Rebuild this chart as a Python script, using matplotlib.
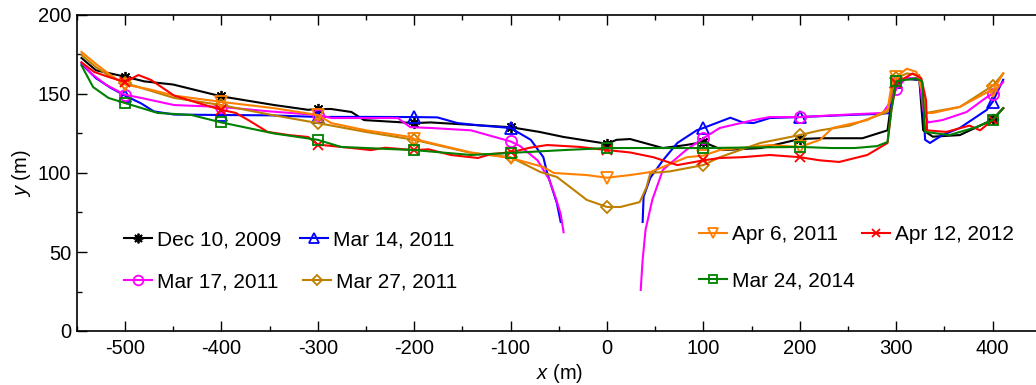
import numpy as np
import matplotlib
matplotlib.use("Agg")
import matplotlib.pyplot as plt
from matplotlib.ticker import MultipleLocator
from matplotlib.lines import Line2D

plt.rcParams['font.family'] = ['Liberation Sans', 'DejaVu Sans']
plt.rcParams['axes.unicode_minus'] = False
plt.rcParams['mathtext.fontset'] = 'custom'
plt.rcParams['mathtext.it'] = 'Liberation Sans:italic'
plt.rcParams['mathtext.rm'] = 'Liberation Sans'

# ---------------- data ----------------
labels = ["Dec 10, 2009", "Mar 14, 2011", "Mar 17, 2011", "Mar 27, 2011",
          "Apr 6, 2011", "Apr 12, 2012", "Mar 24, 2014"]

dec2009_x = [-545, -530, -515, -500, -480, -450, -400, -365, -345, -310, -300, -286, -265, -252,
             -200, -183, -141, -100, -70, -45, 0, 10, 24, 58, 82, 100, 120, 160, 200, 221, 265,
             291, 296, 300, 307, 324, 328, 338, 366, 394, 400, 411]
dec2009_y = [172.8, 165, 163, 161, 158, 156, 148.5, 145, 143, 140, 140.5, 140.5, 138.6, 133.5,
             131.6, 132, 130.5, 129, 126, 122.8, 118.5, 121, 121.5, 115.8, 117.7, 119.6, 114.5, 115.8,
             121.5, 122, 122, 127, 150, 157.5, 159.5, 159, 127, 123, 124, 132, 134, 141]

mar14_x = [-545, -530, -515, -500, -483, -470, -449, -400, -350, -300, -250, -200, -176, -155,
           -130, -100, -79, -66, -62, -52, -48,
           np.nan,
           37, 38, 45, 58, 73, 93, 100, 128, 141, 152, 169, 200, 250, 286, 293, 297, 300, 310,
           324, 328, 330, 335, 348, 366, 394, 400, 411]
mar14_y = [169, 160, 154, 149, 144, 139, 137, 136.7, 136.5, 135.5, 135.5, 135.4, 135.2, 131.6,
           130, 128.5, 121, 110, 100, 81, 69,
           np.nan,
           69, 85, 97, 108, 119, 127, 128.5, 135, 132, 131.6, 134.8, 135.4, 136.7, 137.5, 138, 150,
           157.6, 160, 159, 140, 121, 119, 124, 128.5, 140, 145, 159]

mar17_x = [-545, -535, -520, -500, -483, -449, -400, -350, -300, -286, -250, -217, -204, -183,
           -141, -100, -90, -72, -60, -53, -48, -45,
           np.nan,
           35, 37, 40, 47, 58, 82, 100, 117, 152, 169, 200, 250, 286, 294, 300, 310, 324, 328,
           333, 348, 373, 394, 400, 411]
mar17_y = [170, 163, 156, 149.5, 147.5, 143, 141.8, 139, 136.7, 134.8, 134.8, 134.8, 129, 128.5,
           127, 120, 117, 108, 96, 84, 74, 62.5,
           np.nan,
           26, 45, 64, 83, 102, 114.5, 122, 128.5, 133.5, 135.4, 135.4, 137, 138, 145, 153, 160,
           160, 140, 132, 133.5, 138.6, 148, 150, 157.6]

mar27_x = [-545, -530, -515, -500, -449, -400, -350, -300, -250, -200, -141, -100, -90, -69,
           -52, -38, -21, 0, 14, 34, 41, 45, 65, 100, 117, 159, 200, 221, 252, 291, 295, 300,
           311, 324, 328, 331, 366, 397, 400, 411]
mar27_y = [174.7, 167, 161, 157, 147.5, 143, 137, 131.6, 126, 121, 112.7, 110, 107, 100.6,
           97.5, 91, 83, 78.5, 78.5, 81.6, 91, 100, 101, 105, 110, 119, 124, 127, 130, 138.6,
           150, 160, 163, 162, 150, 138, 141.8, 154, 155, 163]

apr6_x = [-545, -530, -515, -500, -475, -449, -400, -345, -300, -286, -250, -204, -200, -141,
          -100, -66, -55, -21, 0, 24, 45, 83, 100, 117, 169, 200, 221, 234, 270, 291, 295, 300,
          311, 321, 328, 331, 338, 366, 394, 400, 411]
apr6_y = [176.6, 169, 162, 156, 153, 149, 145, 141, 136.7, 131.6, 127, 122.8, 121.5, 113,
          109.5, 103.8, 100, 98.7, 97, 98.7, 100.6, 110, 111, 114.5, 117.7, 116.5, 121, 128.5,
          133.5, 140, 155, 160.8, 166, 164, 150, 138, 138, 141.8, 151, 152, 163]

apr12_x = [-545, -532, -517, -500, -486, -473, -449, -424, -400, -385, -372, -352, -330, -310,
           -300, -276, -260, -245, -230, -200, -185, -162, -134, -120, -100, -80, -62, -28, 0,
           24, 48, 73, 100, 117, 140, 169, 200, 221, 241, 270, 291, 295, 300, 317, 326, 331,
           332, 352, 376, 387, 400, 411]
apr12_y = [170, 164, 160.8, 157.6, 162, 158.9, 149, 144.3, 140, 138, 133.5, 126, 124, 122.8,
           118, 116.5, 115.5, 114.5, 116, 114.5, 115, 111.4, 109.5, 112, 113, 116, 117.7, 116.5,
           114.5, 113, 110, 105, 108, 109.5, 110, 111.4, 110, 108, 107, 111.4, 119, 140, 157,
           163, 160, 146, 127, 126, 130, 127, 133.5, 141]

mar24_x = [-545, -533, -517, -500, -466, -431, -400, -345, -300, -276, -200, -141, -100, -45,
           0, 24, 100, 200, 233, 257, 280, 291, 295, 300, 320, 327, 330, 355, 383, 400, 411]
mar24_y = [168, 154.4, 147.5, 144.3, 138, 136.7, 132, 125, 121, 116.5, 114.5, 111.4, 112.7,
           114.5, 115.8, 115.8, 115.8, 116.5, 115.8, 115.8, 117, 119.6, 140, 158, 160, 158, 126,
           124, 129, 133.5, 141]

series_x = [dec2009_x, mar14_x, mar17_x, mar27_x, apr6_x, apr12_x, mar24_x]
series_y = [dec2009_y, mar14_y, mar17_y, mar27_y, apr6_y, apr12_y, mar24_y]

colors = ['#000000', '#0000FF', '#FF00FF', '#BF8000', '#FF8000', '#FF0000', '#008000']
markers = [(8, 2, 0), '^', 'o', 'D', 'v', 'x', 's']
msizes = [8, 8, 8, 6.5, 8, 7, 7]

xticks = [-500, -400, -300, -200, -100, 0, 100, 200, 300, 400]
yticks = [0, 50, 100, 150, 200]

# ---------------- figure ----------------
W, H = 1036, 385
fig = plt.figure(figsize=(W / 100, H / 100), dpi=100)
ax = fig.add_axes([76.7 / W, 54 / H, (W - 76.7) / W, 316 / H])

for xs, ys, c, m, ms in zip(series_x, series_y, colors, markers, msizes):
    xa = np.array(xs, dtype=float)
    ya = np.array(ys, dtype=float)
    mask = np.isfinite(xa) & (np.mod(np.nan_to_num(xa, nan=1.0), 100) == 0)
    ax.plot(xa, ya, color=c, lw=1.5, marker=m, ms=ms, mew=1.3,
            mfc='none', mec=c, markevery=list(mask))

ax.set_xlim(-550, 445)
ax.set_ylim(0, 200)
ax.set_xticks(xticks)
ax.set_yticks(yticks)
ax.xaxis.set_minor_locator(MultipleLocator(50))
ax.yaxis.set_minor_locator(MultipleLocator(25))
ax.tick_params(which='both', direction='in', top=True, right=False, labelsize=14.5)
ax.tick_params(which='major', length=7, width=1)
ax.tick_params(which='minor', length=3.5, width=1)
ax.tick_params(axis='x', pad=6)
ax.tick_params(axis='y', pad=4)
ax.spines['right'].set_visible(False)
for s in ['left', 'bottom', 'top']:
    ax.spines[s].set_linewidth(1.2)

ax.set_xlabel(r'$x$ (m)', fontsize=14.5)
ax.set_ylabel(r'$y$ (m)', fontsize=14.5)
ax.xaxis.set_label_coords((560 - 76.7) / (W - 76.7), -(362 - 331) / 316)
ax.yaxis.set_label_coords(-(76.7 - 33) / (W - 76.7), 0.5)

# legend entries placed individually (px positions of handle start / row centre)
leg_pos = [(124, 240), (300, 240), (124, 282), (303, 282), (699, 235), (862, 235), (699, 281)]
for i, (lab, c, m, ms) in enumerate(zip(labels, colors, markers, msizes)):
    h = Line2D([], [], color=c, lw=1.5, marker=m, ms=ms - 1, mew=1.3, mfc='none', mec=c)
    px, py = leg_pos[i]
    fig.legend(handles=[h], labels=[lab], loc='center left',
               bbox_to_anchor=(px / W, 1 - py / H), frameon=False,
               borderpad=0, borderaxespad=0, handlelength=1.35,
               handletextpad=0.25, fontsize=15)

fig.savefig('out.png', dpi=100)
